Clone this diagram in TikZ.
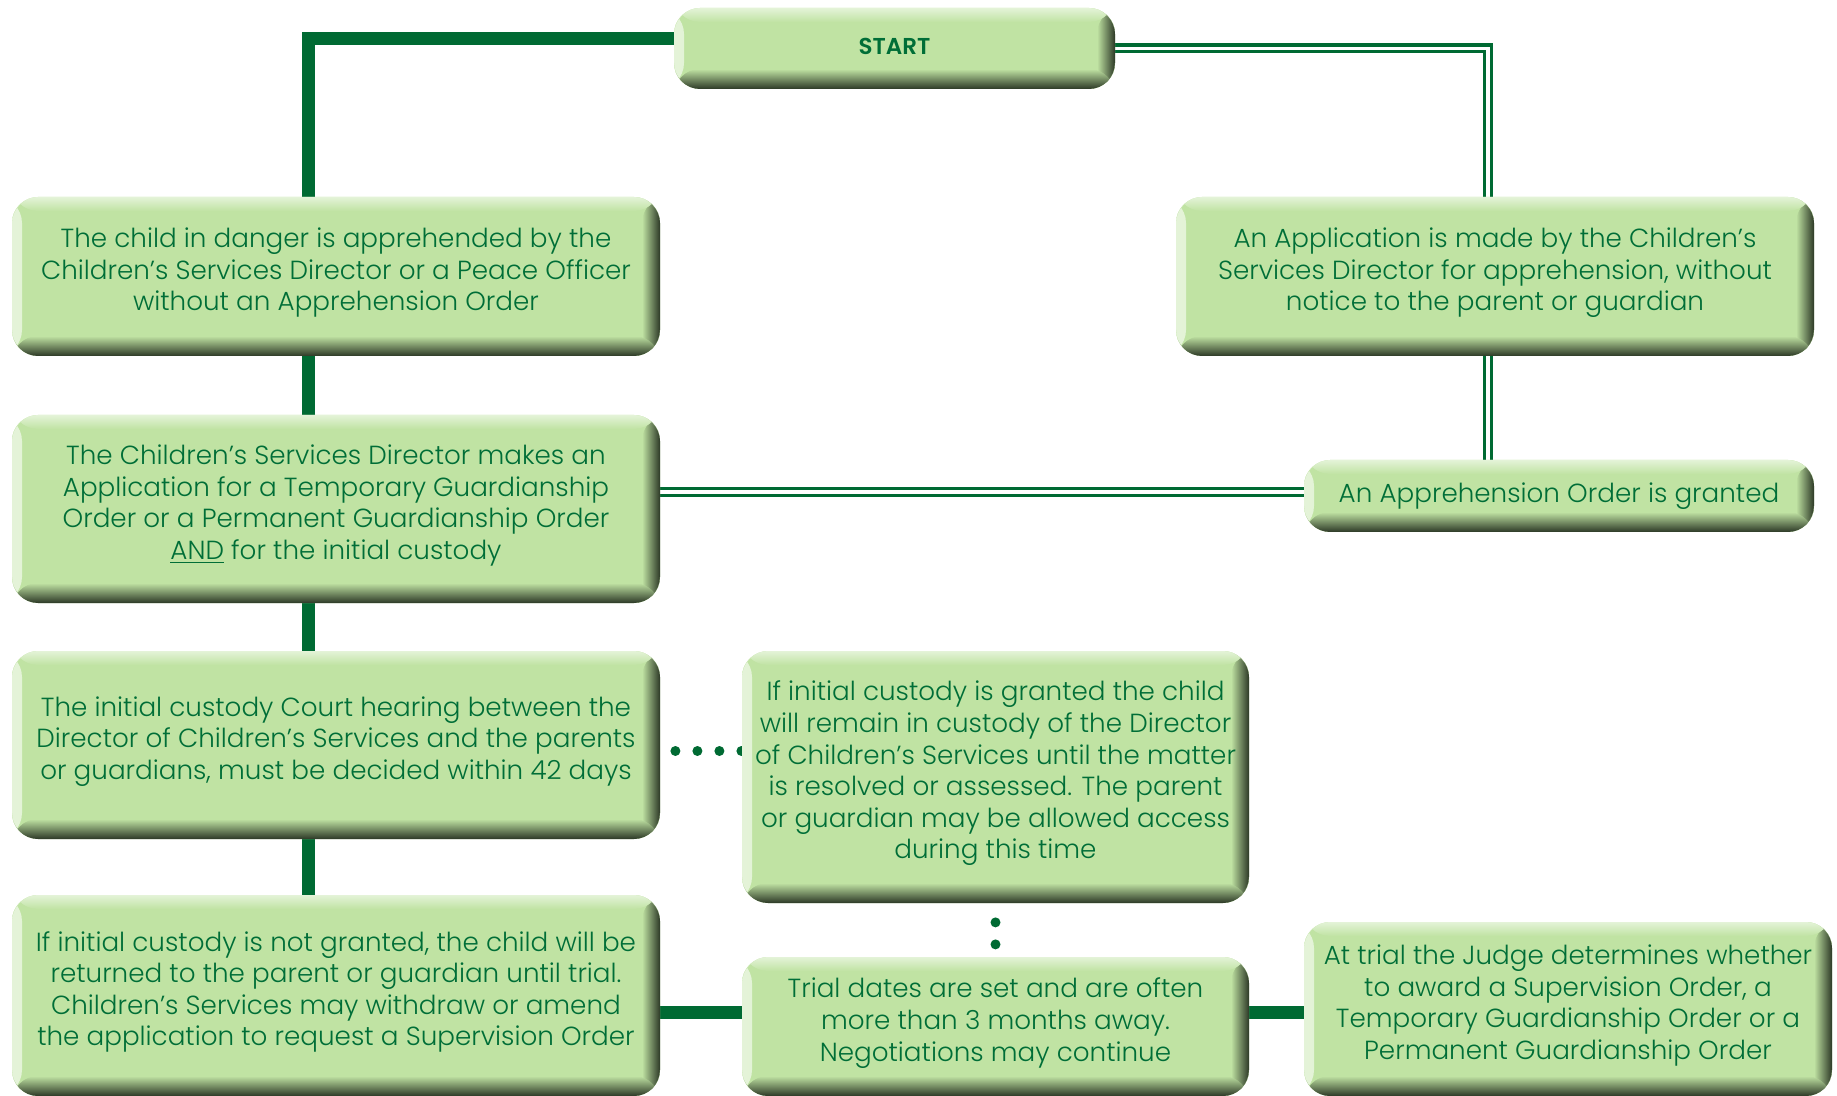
\documentclass[tikz,border=0pt]{standalone}
\usepackage{fontspec}
\setmainfont{Poppins Light}[BoldFont=Poppins SemiBold]
\usetikzlibrary{backgrounds}

\definecolor{boxgreen}{RGB}{192,227,163}
\definecolor{boxlight}{RGB}{228,243,216}
\definecolor{boxmid}{RGB}{120,150,100}
\definecolor{boxdark}{RGB}{44,56,38}
\definecolor{textgreen}{RGB}{0,110,55}
\definecolor{linegreen}{RGB}{0,106,51}

\tikzset{
  flowbox/.style={rounded corners=13pt, fill=boxgreen, text=textgreen, align=center,
    inner sep=0pt, font=\fontsize{13.1}{15.8}\selectfont,
    path picture={
      \shade[left color=boxlight, right color=boxgreen]
        (path picture bounding box.south west) rectangle ([xshift=5pt]path picture bounding box.north west);
      \shade[left color=boxgreen, right color=boxdark]
        ([xshift=-9pt]path picture bounding box.south east) rectangle (path picture bounding box.north east);
      \shade[top color=boxgreen, middle color=boxmid, bottom color=boxdark]
        (path picture bounding box.south west) rectangle ([yshift=10pt]path picture bounding box.south east);
      \shade[top color=boxlight, bottom color=boxgreen]
        ([yshift=-7pt]path picture bounding box.north west) rectangle (path picture bounding box.north east);
    }},
  lifted/.style={execute at end node={\rule[-#1]{0pt}{1pt}}},
  lifted/.default=7pt,
  thickline/.style={line width=6.5pt, draw=linegreen},
  doubleline/.style={line width=1.6pt, draw=linegreen, double=white, double distance=1.8pt},
  dotline/.style={line width=5pt, draw=linegreen, line cap=round, dash pattern=on 0pt off 11pt}
}

\begin{document}
\begin{tikzpicture}[x=0.5pt, y=-0.5pt]
  \useasboundingbox (0,0) rectangle (1837,1096);
  \clip (0,0) rectangle (1837,1096);

  \node[flowbox, lifted=2.5pt, minimum width=220.5pt, minimum height=40.5pt,
    font=\fontsize{11.5}{15.8}\selectfont\bfseries] (start) at (894.5,48.5) {START};

  \node[flowbox, lifted, minimum width=324pt, minimum height=79.5pt] (danger) at (336,276.5)
    {The child in danger is apprehended by the\\Children’s Services Director or a Peace Officer\\without an Apprehension Order};
  \node[flowbox, lifted, minimum width=319pt, minimum height=79.5pt] (application) at (1495,276.5)
    {An Application is made by the Children’s\\Services Director for apprehension, without\\notice to the parent or guardian};
  \node[flowbox, lifted, minimum width=324pt, minimum height=94pt] (guardianship) at (336,509)
    {The Children’s Services Director makes an\\Application for a Temporary Guardianship\\Order or a Permanent Guardianship Order\\\underline{AND} for the initial custody};
  \node[flowbox, minimum width=255pt, minimum height=36pt] (granted) at (1559,496)
    {An Apprehension Order is granted};
  \node[flowbox, lifted, minimum width=324pt, minimum height=94pt] (hearing) at (336,745)
    {The initial custody Court hearing between the\\Director of Children’s Services and the parents\\or guardians, must be decided within 42 days};
  \node[flowbox, lifted, minimum width=253.5pt, minimum height=126pt] (custody) at (995.5,777)
    {If initial custody is granted the child\\will remain in custody of the Director\\of Children’s Services until the matter\\is resolved or assessed. The parent\\or guardian may be allowed access\\during this time};
  \node[flowbox, lifted, minimum width=324pt, minimum height=100.5pt] (returned) at (336,995.5)
    {If initial custody is not granted, the child will be\\returned to the parent or guardian until trial.\\Children’s Services may withdraw or amend\\the application to request a Supervision Order};
  \node[flowbox, lifted, minimum width=253.5pt, minimum height=69.5pt] (dates) at (995.5,1026.5)
    {Trial dates are set and are often\\more than 3 months away.\\Negotiations may continue};
  \node[flowbox, lifted, minimum width=264pt, minimum height=87pt] (judge) at (1568,1009)
    {At trial the Judge determines whether\\to award a Supervision Order, a\\Temporary Guardianship Order or a\\Permanent Guardianship Order};

  \coordinate (spine) at (308,0);
  \coordinate (rail) at (1488,0);
  \coordinate (trial) at (0,1012);

  \begin{scope}[on background layer]
    \draw[thickline] ([yshift=4.75pt]start.west) -| (danger.north -| spine);
    \draw[thickline] (danger.south -| spine) -- (guardianship.north -| spine);
    \draw[thickline] (guardianship.south -| spine) -- (hearing.north -| spine);
    \draw[thickline] (hearing.south -| spine) -- (returned.north -| spine);
    \draw[thickline] (returned.east |- trial) -- (dates.west |- trial);
    \draw[thickline] (dates.east |- trial) -- (judge.west |- trial);

    \draw[doubleline] (start.east) -| (application.north -| rail);
    \draw[doubleline] (application.south -| rail) -- (granted.north -| rail);
    \draw[doubleline] ([yshift=2pt]guardianship.east |- granted.west) -- ([yshift=2pt]granted.west);

    \draw[dotline] ([xshift=7.5pt, yshift=-3pt]hearing.east) -- ([yshift=-3pt]hearing.east -| custody.west);
    \draw[dotline] ([yshift=-9.5pt]custody.south) -- (dates.north);
  \end{scope}
\end{tikzpicture}
\end{document}
